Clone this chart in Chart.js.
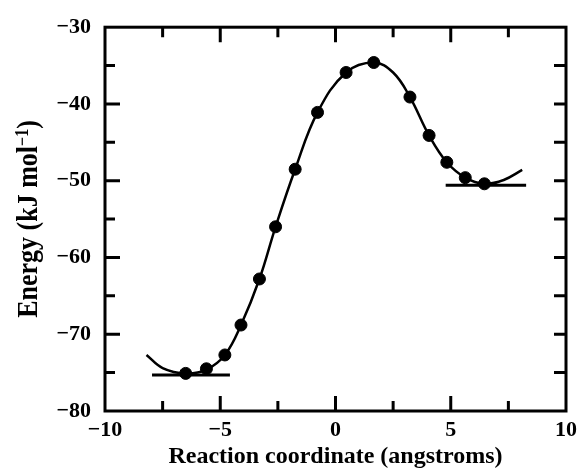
<!DOCTYPE html>
<html lang="en">
  <head>
    <meta charset="UTF-8" />
    <title>Energy profile</title>
    <script src="https://cdn.jsdelivr.net/npm/chart.js@4.4.0/dist/chart.umd.min.js"></script>
    <style>
      html, body { margin: 0; padding: 0; background: #fff; }
      .chart_wrap { width: 583px; height: 469px; }
    </style>
  </head>
  <body>
    <div class="chart_wrap">
      <canvas id="myChart"></canvas>
    </div>

    <script>
      // computed points
      const pointX = [-6.5, -5.6, -4.8, -4.1, -3.3, -2.6, -1.75, -0.78, 0.46, 1.66, 3.23, 4.06, 4.83, 5.63, 6.46];
      const pointY = [-75.1, -74.5, -72.7, -68.8, -62.8, -56.0, -48.5, -41.1, -35.9, -34.6, -39.1, -44.1, -47.6, -49.6, -50.4];

      // fitted curve
      const curveX = [-8.2, -7.5, -6.5, -5.6, -4.8, -4.1, -3.3, -2.6, -1.75, -0.78, 0.46, 1.66, 2.5, 3.23, 4.06, 4.83, 5.63, 6.46, 7.3, 8.1];
      const curveY = [-72.7, -74.4, -75.1, -74.6, -72.7, -68.8, -62.8, -56.0, -48.5, -41.1, -35.9, -34.6, -35.9, -39.1, -44.1, -47.6, -49.6, -50.4, -49.9, -48.6];

      // reference levels (minima)
      const leftLevelX = [-7.96, -4.58];
      const leftLevelY = [-75.3, -75.3];
      const rightLevelX = [4.78, 8.27];
      const rightLevelY = [-50.6, -50.6];

      const xTicks = [-10, -5, 0, 5, 10];
      const yTicks = [-80, -70, -60, -50, -40, -30];

      const pts = (xs, ys) => xs.map((x, i) => ({ x: x, y: ys[i] }));
      const fmt = (v) => (v < 0 ? "\u2212" + Math.abs(v) : String(v));
      const serif = "'Liberation Serif', 'Times New Roman', serif";

      // frame, inward ticks and y title with superscript
      const framePlugin = {
        id: "frame",
        afterDraw(chart) {
          const ctx = chart.ctx;
          const a = chart.chartArea;
          const xs = chart.scales.x;
          const ys = chart.scales.y;
          ctx.save();
          ctx.strokeStyle = "#000";
          ctx.lineWidth = 3;
          ctx.lineCap = "butt";
          ctx.strokeRect(a.left, a.top, a.right - a.left, a.bottom - a.top);

          ctx.beginPath();
          for (let v = -7.5; v <= 7.5; v += 2.5) {
            const px = xs.getPixelForValue(v);
            const len = v % 5 === 0 ? 15 : 10;
            ctx.moveTo(px, a.bottom);
            ctx.lineTo(px, a.bottom - len);
            ctx.moveTo(px, a.top);
            ctx.lineTo(px, a.top + len);
          }
          for (let v = -75; v <= -35; v += 5) {
            const py = ys.getPixelForValue(v);
            const len = v % 10 === 0 ? 15 : 10;
            ctx.moveTo(a.left, py);
            ctx.lineTo(a.left + len, py);
            ctx.moveTo(a.right, py);
            ctx.lineTo(a.right - 12, py);
          }
          ctx.stroke();

          // y axis title
          ctx.translate(36.5, 219);
          ctx.rotate(-Math.PI / 2);
          ctx.scale(1, 1.12);
          ctx.fillStyle = "#000";
          ctx.textBaseline = "alphabetic";
          const big = "bold 26px " + serif;
          const small = "bold 16px " + serif;
          const p1 = "Energy (kJ mol";
          const p2 = "\u22121";
          const p3 = ")";
          ctx.font = big;
          const w1 = ctx.measureText(p1).width;
          const w3 = ctx.measureText(p3).width;
          ctx.font = small;
          const w2 = ctx.measureText(p2).width;
          let x0 = -(w1 + w2 + w3) / 2;
          ctx.font = big;
          ctx.fillText(p1, x0, 0);
          ctx.font = small;
          ctx.fillText(p2, x0 + w1, -8);
          ctx.font = big;
          ctx.fillText(p3, x0 + w1 + w2, 0);
          ctx.restore();
        },
      };

      const data = {
        datasets: [
          {
            label: "fit",
            data: pts(curveX, curveY),
            showLine: true,
            borderColor: "#000",
            borderWidth: 2.5,
            pointRadius: 0,
            tension: 0.4,
            order: 2,
          },
          {
            label: "points",
            data: pts(pointX, pointY),
            showLine: false,
            pointRadius: 6,
            pointBackgroundColor: "#000",
            pointBorderColor: "#000",
            order: 1,
          },
          {
            label: "left level",
            data: pts(leftLevelX, leftLevelY),
            showLine: true,
            borderColor: "#000",
            borderWidth: 3,
            pointRadius: 0,
            order: 3,
          },
          {
            label: "right level",
            data: pts(rightLevelX, rightLevelY),
            showLine: true,
            borderColor: "#000",
            borderWidth: 3,
            pointRadius: 0,
            order: 3,
          },
        ],
      };

      const config = {
        type: "scatter",
        data: data,
        plugins: [framePlugin],
        options: {
          responsive: false,
          animation: false,
          events: [],
          layout: { padding: { top: 18, right: 11, left: 0, bottom: 0 } },
          plugins: { legend: { display: false }, tooltip: { enabled: false } },
          scales: {
            x: {
              type: "linear",
              min: -10,
              max: 10,
              afterBuildTicks: (s) => { s.ticks = xTicks.map((v) => ({ value: v })); },
              grid: { display: false, drawTicks: false },
              border: { display: false },
              ticks: {
                padding: 6,
                color: "#000",
                font: { family: serif, size: 22, weight: "bold" },
                callback: (v) => fmt(v),
                maxRotation: 0,
              },
              title: {
                display: true,
                text: "Reaction coordinate (angstroms)",
                color: "#000",
                padding: { top: 0, bottom: -2 },
                font: { family: serif, size: 24, weight: "bold", lineHeight: 1.2 },
              },
              afterFit: (s) => { s.height = 58; },
            },
            y: {
              type: "linear",
              min: -80,
              max: -30,
              afterBuildTicks: (s) => { s.ticks = yTicks.map((v) => ({ value: v })); },
              grid: { display: false, drawTicks: false },
              border: { display: false },
              ticks: {
                padding: 14,
                color: "#000",
                font: { family: serif, size: 22, weight: "bold" },
                callback: (v) => fmt(v),
              },
              afterFit: (s) => { s.width = 105; },
            },
          },
        },
      };

      const canvas = document.getElementById("myChart");
      canvas.width = 583;
      canvas.height = 469;
      const myChart = new Chart(canvas, config);
    </script>
  </body>
</html>
